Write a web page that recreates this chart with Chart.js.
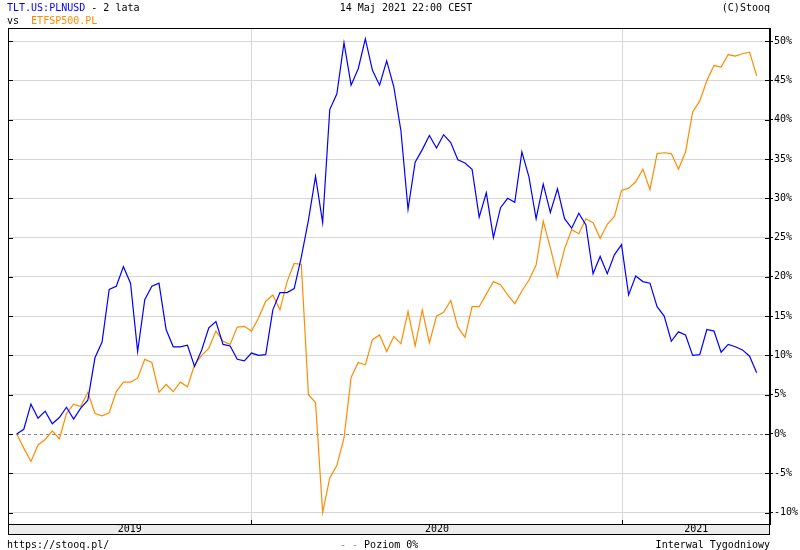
<!DOCTYPE html>
<html>
<head>
<meta charset="utf-8">
<script src="https://cdn.jsdelivr.net/npm/chart.js@4/dist/chart.umd.min.js"></script>
<style>
  html, body { margin:0; padding:0; background:#fff; }
  #wrap { position:relative; width:800px; height:550px; overflow:hidden; }
  #c { position:absolute; left:0; top:0; }
  .t { position:absolute; font:10px 'DejaVu Sans Mono', monospace; white-space:pre; line-height:11px; color:#000; }
</style>
</head>
<body>
<div id="wrap">
  <canvas id="c" width="800" height="550"></canvas>
  <div class="t" style="left:7px;top:2px;"><span style="color:#0000ff">TLT.US:PLNUSD</span> - 2 lata</div>
  <div class="t" style="left:7px;top:15px;">vs  <span style="color:#ff8c00">ETFSP500.PL</span></div>
  <div class="t" style="left:0;width:812px;text-align:center;top:2px;">14 Maj 2021 22:00 CEST</div>
  <div class="t" style="right:30px;top:2px;">(C)Stooq</div>
  <div class="t" style="left:7px;top:539px;">https://stooq.pl/</div>
  <div class="t" style="left:340px;top:539px;"><span style="color:#888">- - </span>Poziom 0%</div>
  <div class="t" style="right:30px;top:539px;">Interwal Tygodniowy</div>
</div>
<script>
// Weekly % change, 2019-05-17 .. 2021-05-14
const tltPlnusd = [0,0.6,3.8,2.0,2.9,1.3,2.1,3.4,1.9,3.3,
  4.3,9.7,11.7,18.4,18.8,21.3,19.2,10.5,17.1,18.8,
  19.2,13.3,11.1,11.1,11.3,8.6,10.7,13.5,14.3,11.4,
  11.2,9.5,9.3,10.3,10.0,10.1,15.8,18.0,18.0,18.5,
  22.5,27.2,32.8,26.9,41.3,43.3,49.8,44.4,46.5,50.3,
  46.3,44.4,47.5,44.2,38.6,28.6,34.6,36.2,38.0,36.4,
  38.1,37.1,34.9,34.5,33.7,27.6,30.7,25.0,28.8,30.0,
  29.5,35.9,32.7,27.4,31.8,28.2,31.2,27.4,26.2,28.1,
  26.6,20.4,22.6,20.4,22.8,24.1,17.7,20.1,19.4,19.2,
  16.2,15.0,11.8,13.0,12.6,10.0,10.1,13.3,13.1,10.4,
  11.4,11.1,10.7,9.9,7.8];
const etfsp500 = [0,-1.8,-3.5,-1.4,-0.7,0.4,-0.6,2.6,3.8,3.5,
  5.3,2.6,2.3,2.7,5.4,6.6,6.6,7.1,9.5,9.1,
  5.3,6.3,5.4,6.6,6.0,8.8,10.0,10.9,13.1,11.8,
  11.4,13.6,13.7,13.1,14.8,16.9,17.7,15.8,19.4,21.7,
  21.6,5.0,4.0,-10.0,-5.6,-4.0,-0.5,7.2,9.1,8.8,
  12.0,12.6,10.5,12.4,11.5,15.6,11.2,15.8,11.6,15.0,
  15.5,17.0,13.6,12.3,16.2,16.2,17.8,19.4,19.0,17.7,
  16.6,18.2,19.6,21.5,27.1,23.7,20.0,23.6,26.0,25.5,
  27.4,26.9,24.9,26.7,27.7,31.0,31.3,32.1,33.7,31.1,
  35.7,35.8,35.7,33.7,35.9,41.0,42.4,45.0,46.9,46.7,
  48.3,48.1,48.4,48.6,45.6];
const weekIndex = tltPlnusd.map((_, i) => i);
const yTicks = [-10,-5,0,5,10,15,20,25,30,35,40,45,50];
const yearLabels = ['2019','2020','2021'];
const yearStarts = [33.0, 85.12]; // week index where 2020 and 2021 begin

const FONT = "10px 'DejaVu Sans Mono', monospace";

const deco = {
  id: 'deco',
  beforeDraw(chart) {
    const c = chart.ctx;
    c.save(); c.fillStyle = '#fff'; c.fillRect(0, 0, chart.width, chart.height); c.restore();
  },
  beforeDatasetsDraw(chart) {
    const c = chart.ctx, a = chart.chartArea, y = Math.round(chart.scales.y.getPixelForValue(0)) + 0.5;
    c.save();
    c.strokeStyle = '#888'; c.lineWidth = 1; c.setLineDash([3, 3]);
    c.beginPath(); c.moveTo(a.left + 2, y); c.lineTo(a.right, y); c.stroke();
    c.restore();
  },
  afterDraw(chart) {
    const c = chart.ctx, a = chart.chartArea, xs = chart.scales.x, ys = chart.scales.y;
    const L = a.left, R = a.right, T = a.top, B = a.bottom;
    c.save();
    // band
    c.fillStyle = '#ececec';
    c.fillRect(L, B, R - L, 10);
    c.strokeStyle = '#000'; c.lineWidth = 1;
    c.strokeRect(L + 0.5, B + 0.5, R - L - 1, 10);
    // frame
    c.strokeRect(L + 0.5, T + 0.5, R - L - 1, B - T);
    // inner ticks
    c.beginPath();
    yTicks.forEach(v => {
      const y = Math.round(ys.getPixelForValue(v)) + 0.5;
      c.moveTo(L, y); c.lineTo(L + 5, y);
      c.moveTo(R - 5, y); c.lineTo(R, y);
    });
    yearStarts.forEach(v => {
      const x = Math.round(xs.getPixelForValue(v)) + 0.5;
      c.moveTo(x, B - 4); c.lineTo(x, B);
    });
    c.stroke();
    // year labels
    const bounds = [xs.min].concat(yearStarts, [xs.max]);
    c.fillStyle = '#000'; c.font = FONT; c.textAlign = 'center'; c.textBaseline = 'middle';
    yearLabels.forEach((lab, i) => {
      const x0 = xs.getPixelForValue(bounds[i]), x1 = xs.getPixelForValue(bounds[i + 1]);
      c.fillText(lab, (x0 + x1) / 2, B + 5.5);
    });
    c.restore();
  }
};

new Chart(document.getElementById('c'), {
  type: 'line',
  data: {
    datasets: [
      { label: 'TLT.US:PLNUSD', data: weekIndex.map(i => ({ x: i, y: tltPlnusd[i] })),
        borderColor: '#0000ff', borderWidth: 1.2, pointRadius: 0, tension: 0, fill: false },
      { label: 'ETFSP500.PL', data: weekIndex.map(i => ({ x: i, y: etfsp500[i] })),
        borderColor: '#ff8c00', borderWidth: 1.2, pointRadius: 0, tension: 0, fill: false }
    ]
  },
  options: {
    responsive: false, animation: false, devicePixelRatio: 1,
    layout: { padding: { left: 8, top: 28, right: 0, bottom: 16 } },
    plugins: { legend: { display: false }, tooltip: { enabled: false }, title: { display: false } },
    scales: {
      x: {
        type: 'linear', min: -1.22, max: 105.87,
        afterBuildTicks: s => { s.ticks = yearStarts.map(v => ({ value: v })); },
        afterFit: s => { s.height = 10; },
        ticks: { display: false },
        grid: { color: '#d6d6d6', drawTicks: false },
        border: { display: false }
      },
      y: {
        position: 'right', min: -11.46, max: 51.68,
        afterBuildTicks: s => { s.ticks = yTicks.map(v => ({ value: v })); },
        afterFit: s => { s.width = 30; },
        ticks: { callback: v => v + '%', color: '#000', font: { family: "'DejaVu Sans Mono', monospace", size: 10 }, padding: 1 },
        grid: { color: ctx => (ctx.tick && ctx.tick.value === 0) ? 'rgba(0,0,0,0)' : '#d6d6d6',
                tickColor: '#000', tickLength: 3, drawTicks: true },
        border: { display: true, color: '#000' }
      }
    }
  },
  plugins: [deco]
});
</script>
</body>
</html>
